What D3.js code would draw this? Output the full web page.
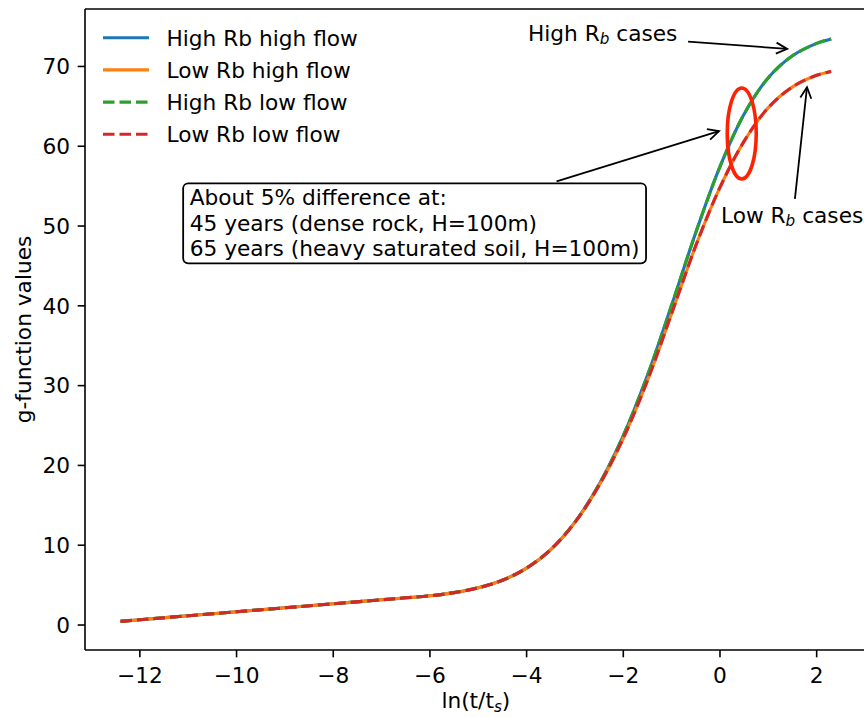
<!DOCTYPE html>
<html><head><meta charset="utf-8">
<script src="https://cdn.jsdelivr.net/npm/d3@7"></script>
<style>body{margin:0;background:#fff} text{font-family:"DejaVu Sans",sans-serif;fill:#000}</style>
</head><body><svg id="c" width="864" height="717"></svg>
<script>
// ---- data ----
const lnT = [-12.4,-12,-11,-10,-9,-8,-7,-6.5,-6,-5.5,-5,-4.5,-4,-3.5,-3,-2.5,-2,-1.5,-1,-0.5,0,0.5,1,1.5,2,2.3];
const highRbHighFlow = [0.46,0.66,1.16,1.66,2.16,2.66,3.16,3.41,3.66,4.06,4.67,5.61,7.13,9.46,12.89,17.64,23.74,31.29,40.09,49.19,57.44,64.04,68.59,71.34,72.89,73.45];
const lowRbHighFlow  = [0.46,0.66,1.16,1.66,2.16,2.66,3.16,3.41,3.66,4.06,4.67,5.61,7.13,9.46,12.86,17.51,23.41,30.64,39.04,47.54,54.84,60.64,64.84,67.44,68.89,69.37];
const highRbLowFlow  = [0.46,0.66,1.16,1.66,2.16,2.66,3.16,3.41,3.66,4.06,4.67,5.61,7.13,9.46,12.89,17.64,23.74,31.29,40.09,49.19,57.44,64.04,68.59,71.34,72.89,73.45];
const lowRbLowFlow   = [0.46,0.66,1.16,1.66,2.16,2.66,3.16,3.41,3.66,4.06,4.67,5.61,7.13,9.46,12.86,17.51,23.41,30.64,39.04,47.54,54.84,60.64,64.84,67.44,68.89,69.37];
const seriesNames = ["High Rb high flow","Low Rb high flow","High Rb low flow","Low Rb low flow"];
const seriesColors = ["#1f77b4","#ff7f0e","#2ca02c","#d62728"];
const seriesDashed = [false,false,true,true];
const xTicks = [-12,-10,-8,-6,-4,-2,0,2];
const yTicks = [0,10,20,30,40,50,60,70];
const boxLines = ["About 5% difference at:","45 years (dense rock, H=100m)","65 years (heavy saturated soil, H=100m)"];
// ellipse: center x, center y, width, height (data units)
const ellipseSpec = [0.45, 61.6, 0.6, 11.4];

// ---- layout ----
const svg = d3.select("#c");
const L = 85, R = 866.7, T = 9, B = 650;
const x = d3.scaleLinear().domain([-13.135, 3.035]).range([L, R]);
const y = d3.scaleLinear().domain([-3.13, 77.2]).range([B, T]);
const FS = 21.7;
const lw = 3.1;

const allSeries = [highRbHighFlow, lowRbHighFlow, highRbLowFlow, lowRbLowFlow];
const line = d3.line().x((d,i)=>x(lnT[i])).y(d=>y(d)).curve(d3.curveCatmullRom.alpha(0.5));

const plot = svg.append("g");
allSeries.forEach((s,k)=>{
  plot.append("path").attr("d", line(s)).attr("fill","none")
    .attr("stroke", seriesColors[k]).attr("stroke-width", lw)
    .attr("stroke-dasharray", seriesDashed[k] ? "11.5,5" : null);
});

// ellipse
plot.append("ellipse")
  .attr("cx", x(ellipseSpec[0])).attr("cy", y(ellipseSpec[1]))
  .attr("rx", Math.abs(x(ellipseSpec[2]/2)-x(0))).attr("ry", Math.abs(y(ellipseSpec[3]/2)-y(0)))
  .attr("fill","none").attr("stroke","#ff2200").attr("stroke-width",3.6);

// spines
const ax = svg.append("g");
ax.append("line").attr("x1",L).attr("x2",L).attr("y1",T).attr("y2",B).attr("stroke","#000").attr("stroke-width",1.6);
ax.append("line").attr("x1",L).attr("x2",R).attr("y1",B).attr("y2",B).attr("stroke","#000").attr("stroke-width",1.6);
ax.append("line").attr("x1",L).attr("x2",R).attr("y1",T).attr("y2",T).attr("stroke","#000").attr("stroke-width",1.6);
ax.append("line").attr("x1",R).attr("x2",R).attr("y1",T).attr("y2",B).attr("stroke","#000").attr("stroke-width",1.6);

const fmt = v => v < 0 ? "\u2212" + Math.abs(v) : String(v);
xTicks.forEach(t=>{
  ax.append("line").attr("x1",x(t)).attr("x2",x(t)).attr("y1",B).attr("y2",B+7.3).attr("stroke","#000").attr("stroke-width",1.6);
  ax.append("text").attr("x",x(t)).attr("y",B+33).attr("text-anchor","middle").attr("font-size",FS).text(fmt(t));
});
yTicks.forEach(t=>{
  ax.append("line").attr("x1",L-7.3).attr("x2",L).attr("y1",y(t)).attr("y2",y(t)).attr("stroke","#000").attr("stroke-width",1.6);
  ax.append("text").attr("x",L-15).attr("y",y(t)+7.8).attr("text-anchor","end").attr("font-size",FS).text(fmt(t));
});

// axis labels
const xl = ax.append("text").attr("x",(L+R)/2).attr("y",708).attr("text-anchor","middle").attr("font-size",FS);
xl.append("tspan").text("ln(t/t");
xl.append("tspan").attr("font-size",FS*0.7).attr("font-style","italic").attr("dy",4).text("s");
xl.append("tspan").attr("dy",-4).text(")");
ax.append("text").attr("transform",`translate(31,${(T+B)/2}) rotate(-90)`).attr("text-anchor","middle").attr("font-size",FS).text("g-function values");

// legend
const lg = svg.append("g");
const legY0 = 37.7, legDy = 32.2;
seriesNames.forEach((n,k)=>{
  const yy = legY0 + k*legDy;
  lg.append("line").attr("x1",103).attr("x2",149).attr("y1",yy).attr("y2",yy)
    .attr("stroke",seriesColors[k]).attr("stroke-width",lw)
    .attr("stroke-dasharray", seriesDashed[k] ? "11.5,5" : null);
  lg.append("text").attr("x",166.5).attr("y",yy+7.8).attr("font-size",FS).text(n);
});

// arrow helper
function arrow(x1,y1,x2,y2){
  const g = svg.append("g");
  g.append("line").attr("x1",x1).attr("y1",y1).attr("x2",x2).attr("y2",y2).attr("stroke","#000").attr("stroke-width",1.8);
  const a = Math.atan2(y2-y1,x2-x1), hl = 11, hw = 5.5;
  const bx = x2 - hl*Math.cos(a), by = y2 - hl*Math.sin(a);
  const px = -Math.sin(a)*hw, py = Math.cos(a)*hw;
  g.append("path").attr("d",`M${bx+px},${by+py}L${x2},${y2}L${bx-px},${by-py}`)
    .attr("fill","none").attr("stroke","#000").attr("stroke-width",1.8);
}

// annotation: High Rb
const t1 = svg.append("text").attr("x",x(-0.88)).attr("y",y(73.2)).attr("text-anchor","end").attr("font-size",FS);
t1.append("tspan").text("High R");
t1.append("tspan").attr("font-size",FS*0.7).attr("font-style","italic").attr("dy",3.5).text("b");
t1.append("tspan").attr("dy",-3.5).text(" cases");
arrow(x(-0.66),y(73.1),x(1.39),y(72.2));

// annotation: Low Rb
const t2 = svg.append("text").attr("x",x(0.02)).attr("y",y(50.4)).attr("font-size",FS);
t2.append("tspan").text("Low R");
t2.append("tspan").attr("font-size",FS*0.7).attr("font-style","italic").attr("dy",3.5).text("b");
t2.append("tspan").attr("dy",-3.5).text(" cases");
arrow(x(1.55),y(53.4),x(1.80),y(67.4));

// text box
const bx0 = x(-10.97), by0 = y(52.6);
const bg = svg.append("g");
const rect = bg.append("rect");
const bt = bg.append("text").attr("font-size",FS);
boxLines.forEach((s,i)=>{
  bt.append("tspan").attr("x",bx0).attr("y",by0 + i*25.5).text(s);
});
const bb = bt.node().getBBox();
rect.attr("x",bb.x-6.5).attr("y",bb.y-2).attr("width",bb.width+13).attr("height",bb.height+4)
  .attr("rx",5).attr("ry",5).attr("fill","#fff").attr("stroke","#000").attr("stroke-width",1.8);
arrow(x(-3.38),y(55.6),x(-0.02),y(61.9));
</script></body></html>
